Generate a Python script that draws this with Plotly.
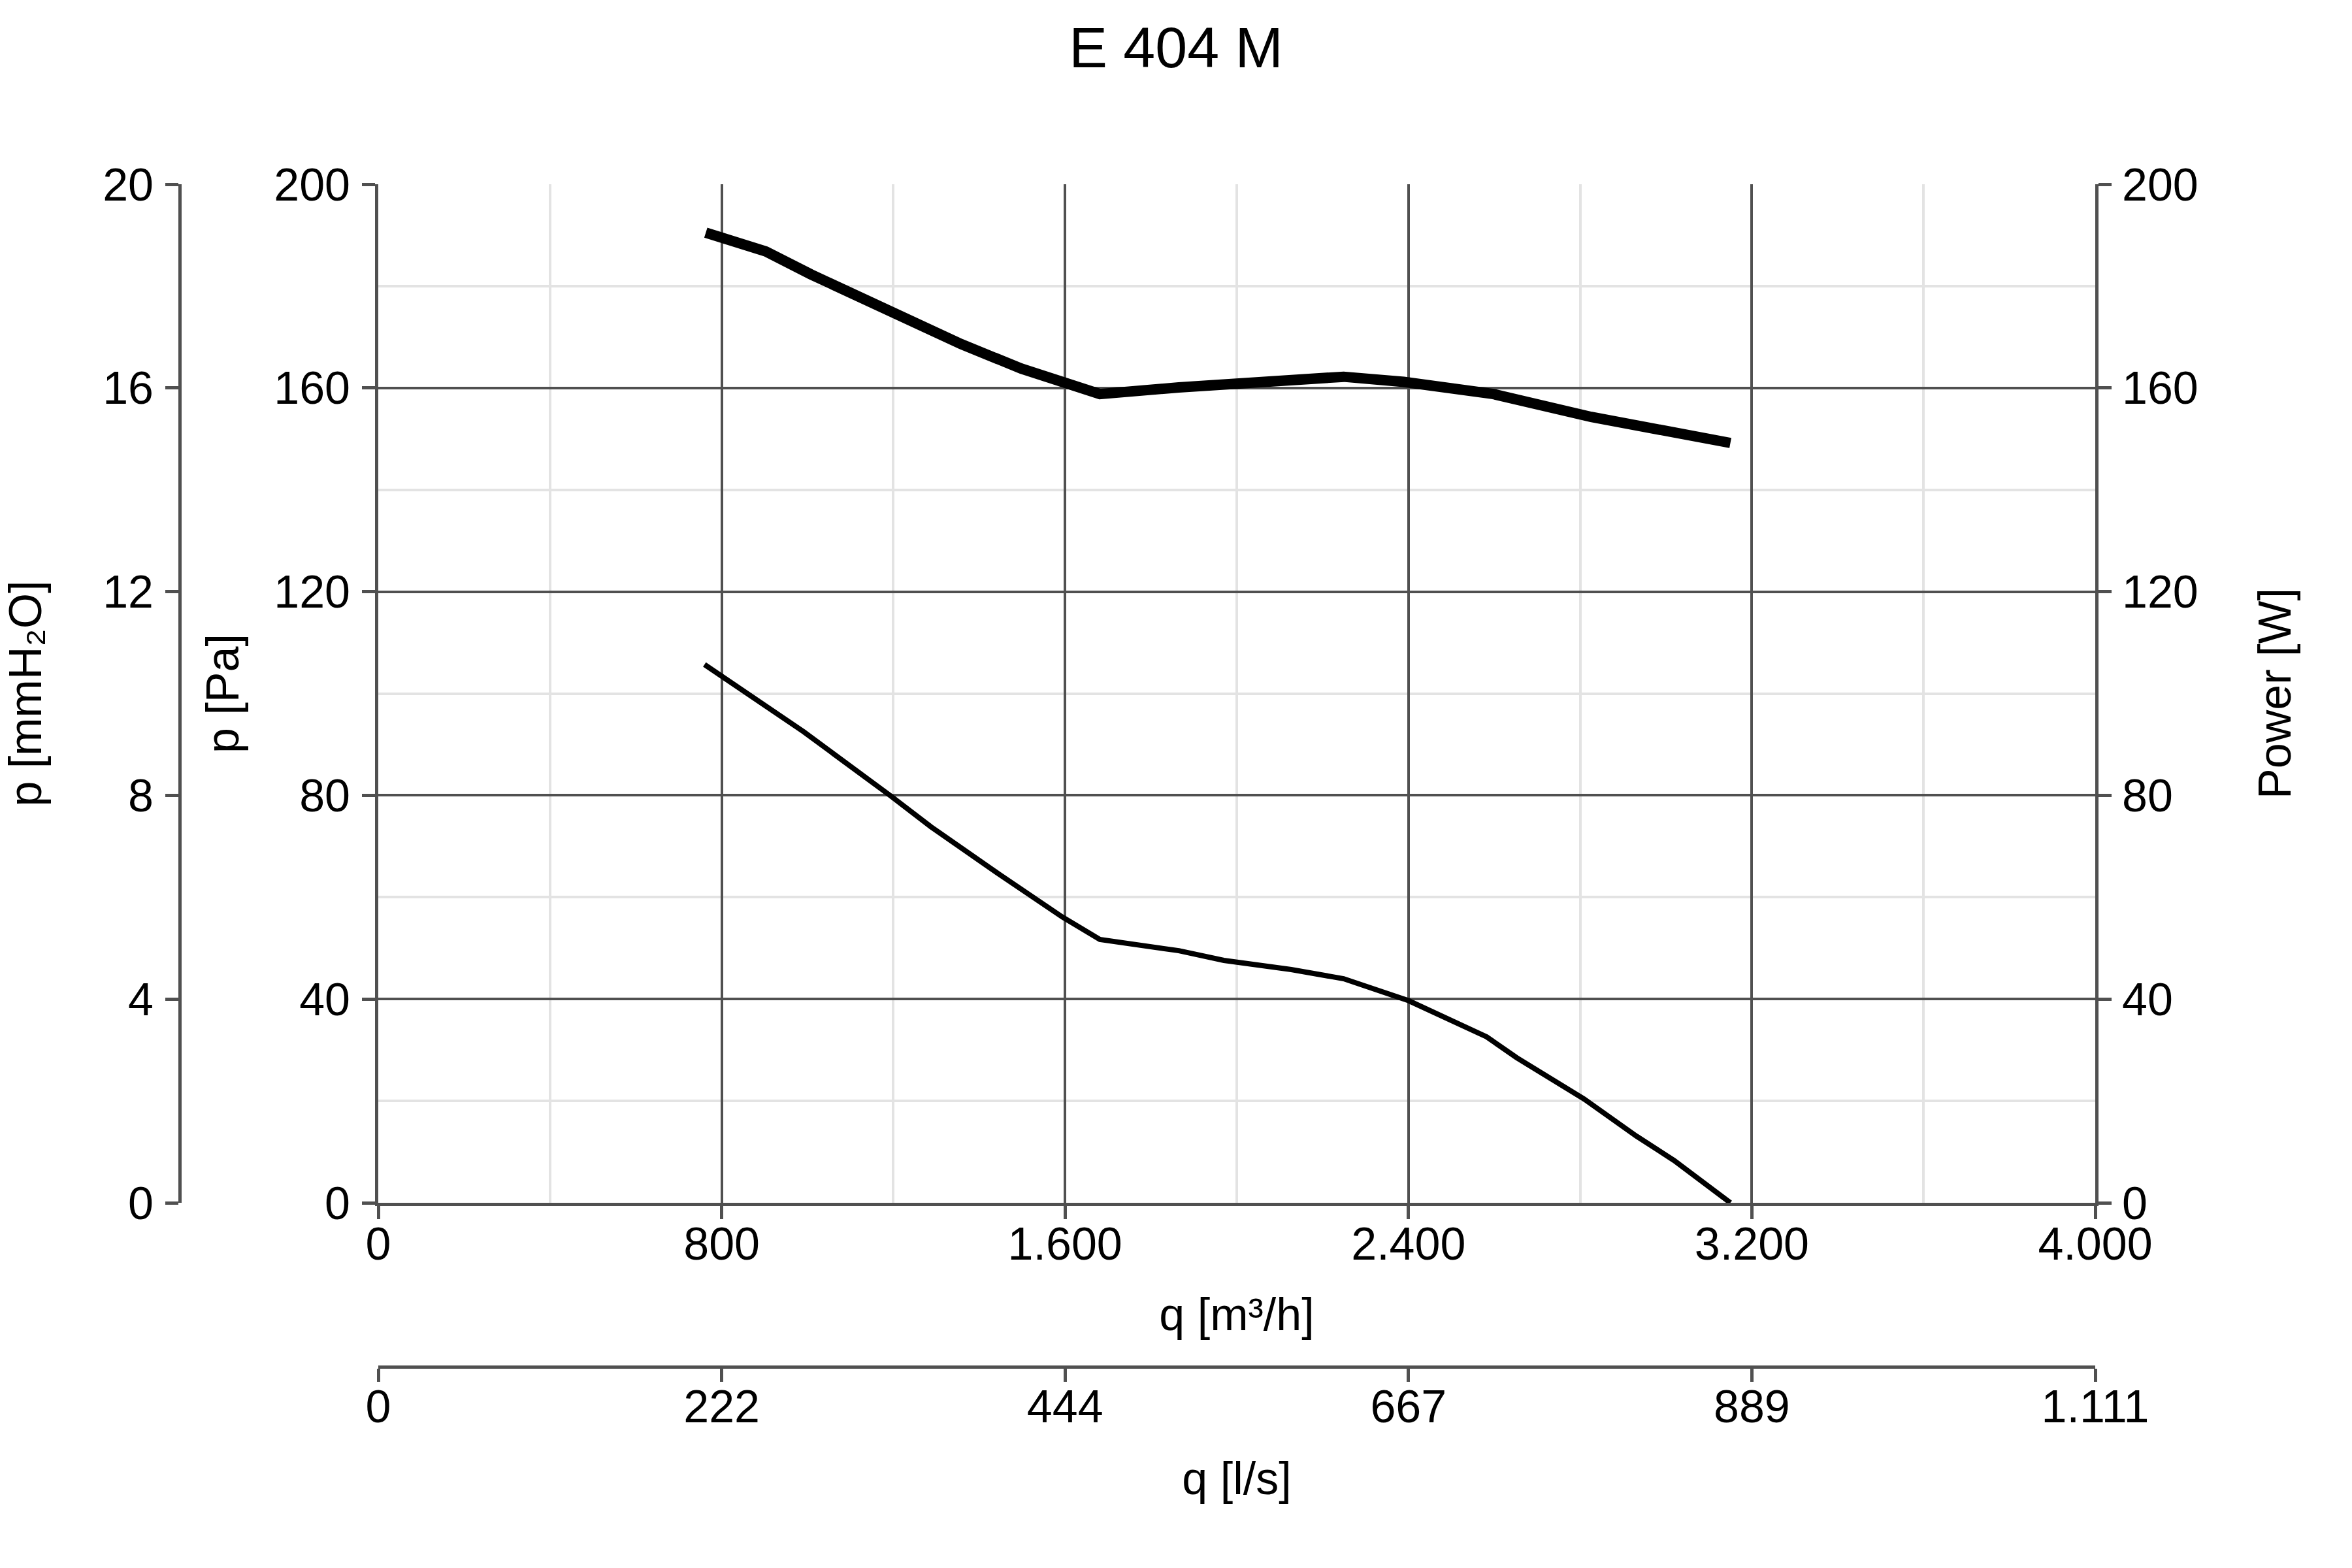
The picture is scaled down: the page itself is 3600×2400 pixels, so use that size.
import plotly.graph_objects as go

# ---- data ----
q_pressure = [760, 991, 1192, 1288, 1445, 1594, 1681, 1865, 1970, 2127, 2249, 2400, 2582, 2652, 2809, 2931, 3019, 3150]
pressure_pa = [105.7, 92.5, 80.0, 73.8, 64.6, 56.1, 51.7, 49.5, 47.6, 45.8, 44.0, 39.7, 32.6, 28.5, 20.4, 13.1, 8.3, 0.0]

q_power = [763, 903, 1008, 1148, 1288, 1358, 1498, 1681, 1865, 2075, 2249, 2389, 2598, 2826, 3150]
power_w = [190.5, 186.8, 182.3, 176.8, 171.3, 168.6, 163.8, 158.8, 160.1, 161.5, 162.2, 161.2, 158.8, 154.3, 149.2]

x_tickvals = [0, 800, 1600, 2400, 3200, 4000]
x_ticktext = ["0", "800", "1.600", "2.400", "3.200", "4.000"]
x2_tickvals = [0, 222.22, 444.44, 666.67, 888.89, 1111.11]
x2_ticktext = ["0", "222", "444", "667", "889", "1.111"]
y_pa_ticks = [0, 40, 80, 120, 160, 200]
y_mm_ticks = [0, 4, 8, 12, 16, 20]
y_w_ticks = [0, 40, 80, 120, 160, 200]

title_text = "E 404 M"

W, H = 3600, 2400
FONT = "Liberation Sans, Arial, sans-serif"
AX = "#505050"
MINOR = "#e3e3e3"
FS = 70

x0, x1 = 579 / W, 3207 / W
y0, y1 = 1 - 1841 / H, 1 - 282 / H

fig = go.Figure()
fig.add_trace(go.Scatter(x=q_pressure, y=pressure_pa, mode="lines",
                         line=dict(color="black", width=8), xaxis="x", yaxis="y",
                         showlegend=False, hoverinfo="skip"))
fig.add_trace(go.Scatter(x=q_power, y=power_w, mode="lines",
                         line=dict(color="black", width=16), xaxis="x", yaxis="y3",
                         showlegend=False, hoverinfo="skip"))
# invisible helper traces so the secondary (free) axes are drawn
fig.add_trace(go.Scatter(x=[0], y=[0], mode="markers", marker=dict(size=1, opacity=0),
                         xaxis="x2", yaxis="y", showlegend=False, hoverinfo="skip"))
fig.add_trace(go.Scatter(x=[0], y=[0], mode="markers", marker=dict(size=1, opacity=0),
                         xaxis="x", yaxis="y2", showlegend=False, hoverinfo="skip"))

common_tick = dict(ticks="outside", ticklen=20, tickwidth=5, tickcolor=AX,
                   tickfont=dict(family=FONT, size=FS, color="black"),
                   showline=True, linecolor=AX, linewidth=5, zeroline=False,
                   automargin=False)

fig.update_layout(
    width=W, height=H,
    margin=dict(l=0, r=0, t=0, b=0, autoexpand=False),
    paper_bgcolor="white", plot_bgcolor="white",
    font=dict(family=FONT, size=FS, color="black"),
    title=dict(text=title_text, x=1800 / W, xanchor="center", y=1 - 72 / H, yanchor="middle",
               font=dict(family=FONT, size=88, color="black"), automargin=False),
    xaxis=dict(domain=[x0, x1], range=[0, 4000], tickvals=x_tickvals, ticktext=x_ticktext,
               showgrid=True, gridcolor=AX, gridwidth=4,
               minor=dict(dtick=400, tick0=0, showgrid=True, gridcolor=MINOR, gridwidth=4, ticks=""),
               title=dict(text="q [m³/h]", font=dict(family=FONT, size=FS), standoff=46),
               ticklabelstandoff=-22,
               anchor="y", **common_tick),
    xaxis2=dict(domain=[x0, x1], range=[0, 1111.11], tickvals=x2_tickvals, ticktext=x2_ticktext,
                overlaying="x", anchor="free", position=1 - 2092 / H, side="bottom",
                showgrid=False,
                title=dict(text="q [l/s]", font=dict(family=FONT, size=FS), standoff=46),
                ticklabelstandoff=-22,
                **common_tick),
    yaxis=dict(domain=[y0, y1], range=[0, 200], tickvals=y_pa_ticks,
               showgrid=True, gridcolor=AX, gridwidth=4,
               minor=dict(dtick=20, tick0=0, showgrid=True, gridcolor=MINOR, gridwidth=4, ticks=""),
               title=dict(text="p [Pa]", font=dict(family=FONT, size=FS), standoff=32),
               ticklabelstandoff=4,
               anchor="x", side="left", **common_tick),
    yaxis2=dict(domain=[y0, y1], range=[0, 20], tickvals=y_mm_ticks,
                overlaying="y", anchor="free", position=275 / W, side="left",
                showgrid=False,
                title=dict(text="p [mmH₂O]", font=dict(family=FONT, size=FS), standoff=71),
                ticklabelstandoff=4,
                **common_tick),
    yaxis3=dict(domain=[y0, y1], range=[0, 200], tickvals=y_w_ticks,
                overlaying="y", anchor="x", side="right",
                showgrid=False,
                title=dict(text="Power [W]", font=dict(family=FONT, size=FS), standoff=95),
                ticklabelstandoff=2,
                **common_tick),
)

fig.write_html("out.html")
